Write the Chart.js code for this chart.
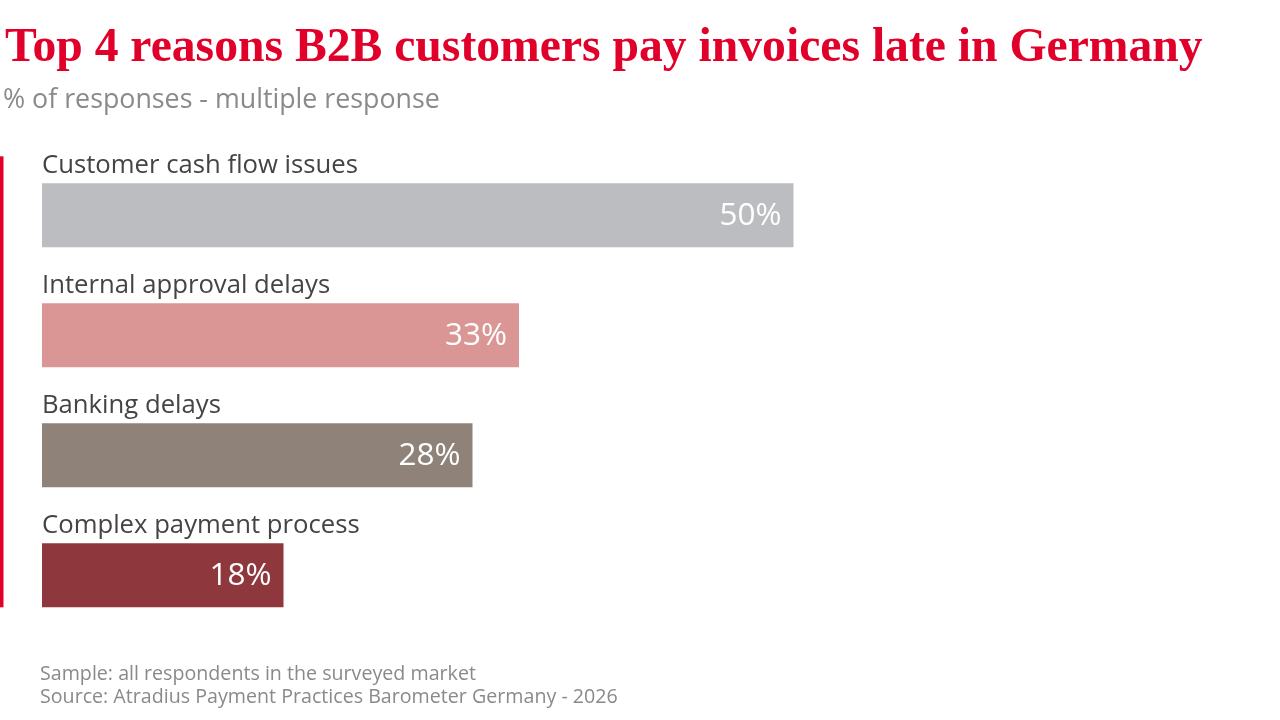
<!DOCTYPE html>
<html>
<head>
<meta charset="utf-8">
<script src="https://cdn.jsdelivr.net/npm/chart.js@4"></script>
<style>
  html, body { margin: 0; padding: 0; background: #fff; }
  canvas { display: block; }
</style>
</head>
<body>
<canvas id="chartBar" width="1280" height="720"></canvas>
<script>
// data
const categories = [
  "Customer cash flow issues",
  "Internal approval delays",
  "Banking delays",
  "Complex payment process"
];
// bar lengths as drawn in the picture (in % units)
const barValues = [50.1, 31.8, 28.7, 16.1];
// printed value labels
const valueLabels = ["50%", "33%", "28%", "18%"];
const barColors = ["#BCBDC1", "#D99694", "#8F8278", "#8E373C"];

const titleText = "Top 4 reasons B2B customers pay invoices late in Germany";
const subtitleText = "% of responses - multiple response";
const footerLines = [
  "Sample: all respondents in the surveyed market",
  "Source: Atradius Payment Practices Barometer Germany - 2026"
];

const RED = "#E1002A";
const SANS = "'Open Sans', 'Noto Sans', sans-serif";
const SERIF = "'Liberation Serif', 'DejaVu Serif', serif";

// pick a font size so the text is the given width
function fitFont(ctx, text, prefix, family, width) {
  ctx.font = prefix + " 40px " + family;
  const w = ctx.measureText(text).width;
  const size = 40 * width / w;
  return prefix + " " + size.toFixed(2) + "px " + family;
}

const textPlugin = {
  id: "texts",
  afterDraw(chart) {
    const ctx = chart.ctx;
    const meta = chart.getDatasetMeta(0);
    ctx.save();
    ctx.textBaseline = "alphabetic";

    // title + subtitle
    ctx.fillStyle = RED;
    ctx.textAlign = "left";
    ctx.font = fitFont(ctx, titleText, "bold", SERIF, 1198);
    ctx.fillText(titleText, 5, 61);

    ctx.fillStyle = "#8A8A8A";
    ctx.font = fitFont(ctx, subtitleText, "normal", SANS, 437);
    ctx.fillText(subtitleText, 3, 108);

    // red accent line
    const first = meta.data[0], last = meta.data[meta.data.length - 1];
    const topY = first.y - first.height / 2 - 27;
    const botY = last.y + last.height / 2;
    ctx.fillStyle = RED;
    ctx.fillRect(0, topY, 3.5, botY - topY);

    // category labels above bars, values inside
    const catFont = fitFont(ctx, categories[0], "normal", SANS, 316);
    const valFont = fitFont(ctx, valueLabels[0], "normal", SANS, 62);
    meta.data.forEach((bar, i) => {
      const top = bar.y - bar.height / 2;
      ctx.fillStyle = "#444444";
      ctx.textAlign = "left";
      ctx.font = catFont;
      ctx.fillText(categories[i], bar.base, top - 10.5);

      ctx.fillStyle = "#FFFFFF";
      ctx.textAlign = "right";
      ctx.font = valFont;
      ctx.fillText(valueLabels[i], bar.x - 12, bar.y + 10);
    });

    // footer
    ctx.fillStyle = "#8A8A8A";
    ctx.textAlign = "left";
    ctx.font = fitFont(ctx, footerLines[1], "normal", SANS, 578);
    ctx.fillText(footerLines[0], 40, 680);
    ctx.fillText(footerLines[1], 40, 703);
    ctx.restore();
  }
};

const dataBarChart = {
  labels: categories,
  datasets: [{
    data: barValues,
    backgroundColor: barColors,
    borderWidth: 0,
    barPercentage: 64 / 120,
    categoryPercentage: 1
  }]
};

const configBarChart = {
  type: "bar",
  data: dataBarChart,
  options: {
    indexAxis: "y",
    responsive: false,
    animation: false,
    layout: { padding: { left: 42, right: 38, top: 155.3, bottom: 84.7 } },
    scales: {
      x: { display: false, min: 0, max: 80 },
      y: { display: false }
    },
    plugins: {
      legend: { display: false },
      tooltip: { enabled: false }
    }
  },
  plugins: [textPlugin]
};

new Chart(document.getElementById("chartBar"), configBarChart);
</script>
</body>
</html>
